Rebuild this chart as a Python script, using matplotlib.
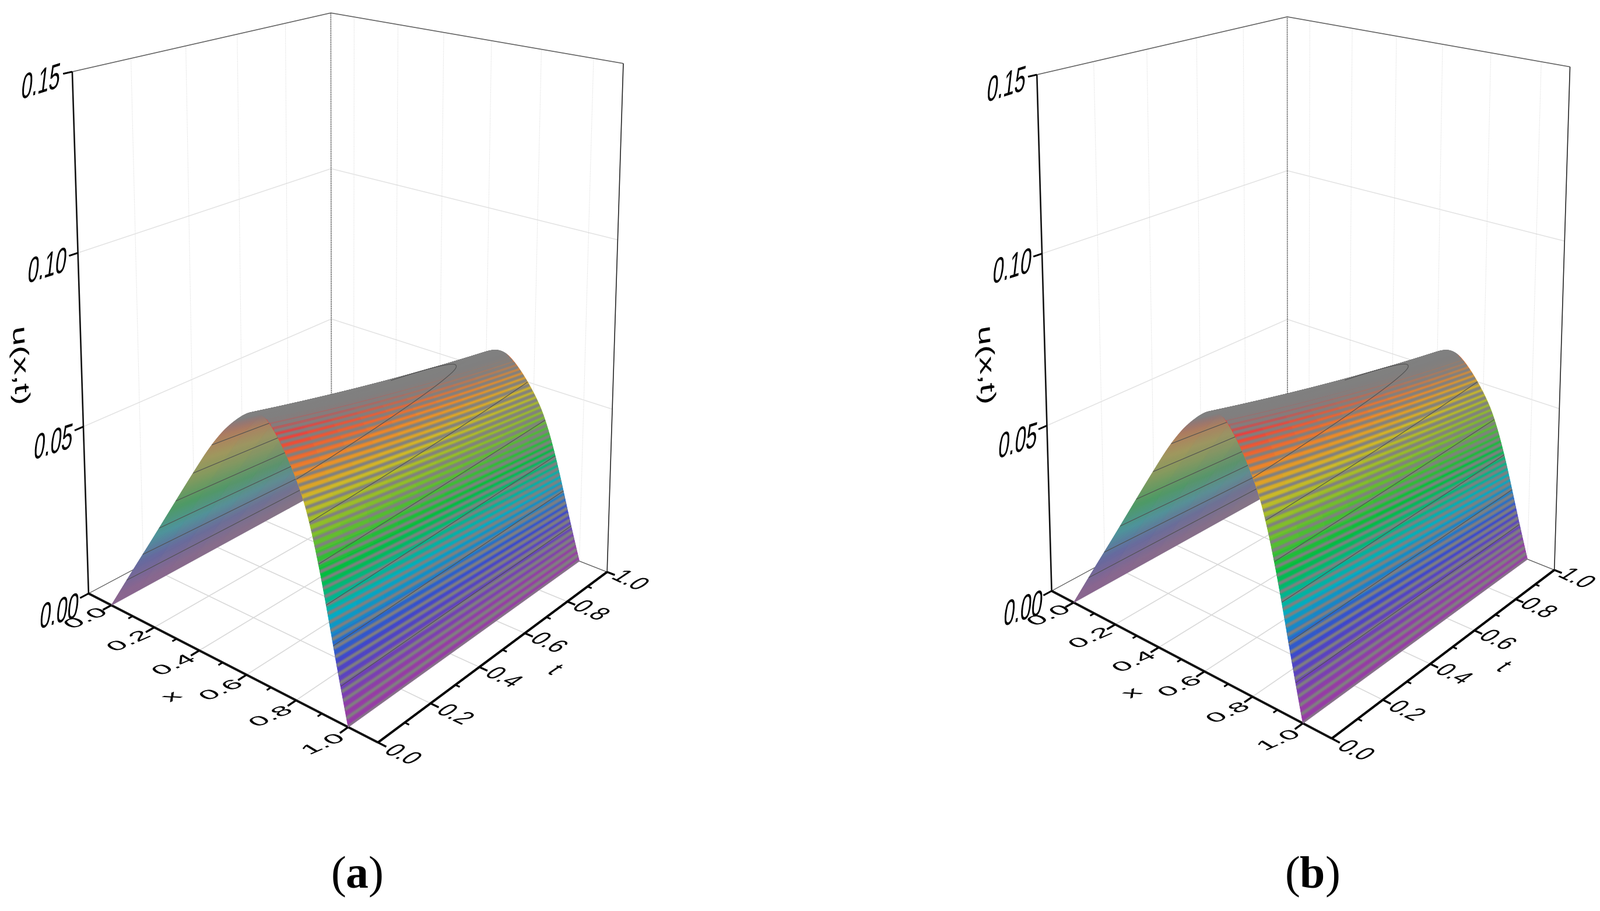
import numpy as np
import matplotlib
matplotlib.use("Agg")
import matplotlib.pyplot as plt
from matplotlib.colors import LinearSegmentedColormap, Normalize, to_rgb
from matplotlib.path import Path
from matplotlib.patheffects import AbstractPathEffect
from matplotlib.transforms import Affine2D
from mpl_toolkits.mplot3d.art3d import Poly3DCollection, Line3DCollection

W, H, DPI = 2744, 1563, 100
plt.rcParams['font.family'] = ['Liberation Sans', 'DejaVu Sans']
plt.rcParams['mathtext.fontset'] = 'custom'
plt.rcParams['mathtext.bf'] = 'Liberation Serif:bold'
plt.rcParams['mathtext.rm'] = 'Liberation Serif'

# ---- data ----
x_major = [0.0, 0.2, 0.4, 0.6, 0.8, 1.0]
x_minor = [0.1, 0.3, 0.5, 0.7, 0.9]
t_major = [0.0, 0.2, 0.4, 0.6, 0.8, 1.0]
t_minor = [0.1, 0.3, 0.5, 0.7, 0.9]
z_major = [0.00, 0.05, 0.10, 0.15]
x_labels = ['0.0', '0.2', '0.4', '0.6', '0.8', '1.0']
t_labels = ['0.0', '0.2', '0.4', '0.6', '0.8', '1.0']
z_labels = ['0.00', '0.05', '0.10', '0.15']
contour_levels = [0.01, 0.02, 0.03, 0.04, 0.05, 0.06]
# surface profile at t=0
profile_x = [0.00, 0.05, 0.10, 0.15, 0.20, 0.25, 0.30, 0.35, 0.40, 0.45, 0.50, 0.54, 0.58, 0.61,
             0.64, 0.67, 0.70, 0.73, 0.76, 0.79, 0.82, 0.85, 0.88, 0.91, 0.94, 0.97, 1.00]
profile_u = [0.0000, 0.0065, 0.0130, 0.0194, 0.0258, 0.0323, 0.0388, 0.0453, 0.0517, 0.0580, 0.0635,
             0.0672, 0.0702, 0.0722, 0.0735, 0.0739, 0.0725, 0.0698, 0.0665, 0.0625, 0.0580, 0.0520,
             0.0430, 0.0333, 0.0215, 0.0105, 0.0000]
# decay of the profile along t
t_nodes = [0.0, 0.1, 0.2, 0.3, 0.4, 0.5, 0.6, 0.7, 0.8, 0.9, 1.0]
t_factor = [1.000, 0.973, 0.947, 0.922, 0.898, 0.875, 0.853, 0.832, 0.812, 0.793, 0.775]

XMIN, XMAX, ZMAX = -0.11, 1.11, 0.15

# ---- camera calibration: (x, t, u) -> figure pixel, top-left origin ----
calib_pts = [(XMIN, 0, 0), (XMAX, 0, 0), (XMAX, 1, 0), (XMIN, 0, .15), (XMAX, 1, .15), (XMIN, 1, .15),
             (XMIN, 1, .10), (XMIN, 1, .05), (XMIN, 0, .10), (XMAX, 1, .10), (0, 0, 0), (1, 0, 0), (1, 1, 0)]
calib_a = [(153, 1018), (647, 1273), (1040, 981), (125, 123), (1069, 108), (568, 22),
           (568, 289), (568, 548), (132, 435), (1058, 412), (189, 1037), (600, 1249), (995, 963)]
calib_b = [(1803, 1014), (2283, 1267), (2665, 977), (1779, 127), (2692, 114), (2208, 28),
           (2208, 293), (2208, 549), (1787, 438), (2682, 414), (1840, 1031), (2237, 1242), (2621, 960)]

rainbow_u = [0.0, 0.004, 0.0165, 0.027, 0.037, 0.048, 0.055, 0.0605, 0.069, 0.075]
rainbow_c = ['#963ca5', '#963ca5', '#3c46cd', '#00afc3', '#00be3c', '#8cbe28', '#cdb928', '#eb8c28', '#eb3c3c', '#eb3c3c']
norm = Normalize(0, 0.075)
cmap = LinearSegmentedColormap.from_list('rb', [(u / 0.075, c) for u, c in zip(rainbow_u, rainbow_c)])
GREY = '#808080'


def fit_camera(pts, px):
    rows = []
    for (x, t, z), (u, v) in zip(pts, px):
        u, v = u / 1000, (H - v) / 1000
        p = [x, t, z * 10, 1]
        rows.append(p + [0, 0, 0, 0] + [-u * c for c in p])
        rows.append([0, 0, 0, 0] + p + [-v * c for c in p])
    P = np.linalg.svd(np.array(rows))[2][-1].reshape(3, 4)
    P = P @ np.diag([1, 1, 10, 1.0])
    P[:2] *= 1000
    if P[2] @ np.array([0.5, 0.5, 0, 1]) < 0:
        P = -P
    wmin = min(P[2] @ np.array([x, t, z, 1]) for x in (XMIN, XMAX) for t in (0, 1) for z in (0, ZMAX))
    r3 = P[2].copy()
    r3[3] -= 0.5 * wmin
    return np.vstack([P[0], P[1], r3, P[2]])


class Skew(AbstractPathEffect):
    """Draws a text centred where it stands through a linear map (text lying in a 3D plane)."""
    def __init__(self, xvec, yvec):
        super().__init__()
        self.xvec, self.yvec = xvec, yvec

    def draw_path(self, renderer, gc, tpath, affine, rgbFace=None):
        m = affine.get_matrix()
        s = np.hypot(m[0, 0], m[1, 0])
        e = tpath.get_extents()
        cx, cy = (e.x0 + e.x1) / 2, (e.y0 + e.y1) / 2
        px, py = affine.transform_point((cx, cy))
        L = np.array([[self.xvec[0], self.yvec[0], 0], [self.xvec[1], self.yvec[1], 0], [0, 0, 1.0]])
        tr = (Affine2D().translate(-cx, -cy).scale(s) + Affine2D(L) + Affine2D().translate(px, py))
        renderer.draw_path(gc, tpath, tr, rgbFace)


X_FX = Skew((1.15, 0.50), (-0.70, 0.42))
T_FX = Skew((0.85, -0.40), (0.90, 0.60))
Z_FX = Skew((0.85, 0.27), (0.18, 1.55))
U_FX = Skew((0.05, -1.48), (0.90, 0.15))
FS = 28.8


def line(ax, xs, ts, zs, color, lw, z, ls='-', cap='butt'):
    seg = np.column_stack([xs, ts, zs])
    ax.add_collection3d(Line3DCollection([seg], colors=color, linewidths=lw * 72 / DPI,
                                         linestyles=ls, capstyle=cap, zorder=z))


def project(M, x, t, u):
    x = np.atleast_1d(np.asarray(x, float))
    t = np.broadcast_to(t, x.shape) if np.ndim(t) == 0 else np.asarray(t, float)
    u = np.broadcast_to(u, t.shape)
    if x.size == 1:
        x = np.broadcast_to(x, t.shape)
    v = M @ np.array([x, t, u, np.ones_like(x)])
    return np.array([v[0] / v[3], v[1] / v[3]])


def label(fig, M, x, t, u, s, fx, rot):
    p = project(M, x, t, u)[:, 0]
    fig.text(p[0] / W, p[1] / H, s, ha='center', va='center', fontsize=FS, color='black',
             rotation=rot, path_effects=[fx])


def panel(fig, calib):
    ax = fig.add_axes([0, 0, 1, 1], projection='3d', computed_zorder=False)
    ax.patch.set_visible(False)
    ax.set_axis_off()
    M = fit_camera(calib_pts, calib)
    ax.get_proj = lambda: M
    ax.apply_aspect = lambda position=None: None

    # back walls and floor grid
    for v in x_major:
        line(ax, [v, v], [0, 1], [0, 0], '#d8d8d8', 1.6, 1)
        line(ax, [v, v], [1, 1], [0, ZMAX], '#d0d0d0', 1.0, 1, ':')
    for v in t_major:
        line(ax, [XMIN, XMAX], [v, v], [0, 0], '#d8d8d8', 1.6, 1)
        if v < 1:
            line(ax, [XMIN, XMIN], [v, v], [0, ZMAX], '#d0d0d0', 1.0, 1, ':')
    for v in z_major[1:3]:
        line(ax, [XMIN, XMIN, XMAX], [0, 1, 1], [v, v, v], '#e2e2e2', 1.5, 1)

    # box frame
    line(ax, [XMIN, XMIN, XMAX], [0, 1, 1], [ZMAX] * 3, '#606060', 1.6, 1.5)
    line(ax, [XMIN, XMIN], [1, 1], [0, ZMAX], '#555555', 1.8, 1.5, (0, (1, 0.7)))
    line(ax, [XMIN, XMIN, XMAX], [0, 1, 1], [0, 0, 0], '#555555', 1.2, 1.5)
    line(ax, [XMIN, XMIN], [0, 0], [0, ZMAX], '#111111', 2.6, 2)
    line(ax, [XMAX, XMAX], [1, 1], [0, ZMAX], '#222222', 1.6, 2)
    line(ax, [XMIN, XMAX], [0, 0], [0, 0], '#111111', 4.0, 2)
    line(ax, [XMAX, XMAX], [0, 1], [0, 0], '#000000', 4.0, 2)

    # surface: fine mesh on the read profile, corners rounded for drawing
    t = np.array(t_nodes)
    fac = np.array(t_factor)
    xf = np.arange(241) / 240
    raw = np.interp(xf, profile_x, profile_u)
    k = 6
    pad = np.r_[2 * raw[0] - raw[k:0:-1], raw, 2 * raw[-1] - raw[-2:-k - 2:-1]]
    prof = np.convolve(pad, np.ones(2 * k + 1) / (2 * k + 1), mode='valid')
    U = np.outer(prof, fac)

    # screen distance between neighbouring x lines, measured across the t direction
    p0 = project(M, xf, 0.5, prof * fac[5])
    tdir = project(M, xf, 1.0, prof * fac[10]) - project(M, xf, 0.0, prof)
    tdir /= np.hypot(*tdir)
    nrm = np.array([-tdir[1], tdir[0]])
    dP = np.gradient(p0, xf, axis=1)
    rate = np.abs((dP * nrm).sum(axis=0))
    split = 139  # crest silhouette, x about 0.58
    grey = np.array(to_rgb(GREY))

    for lo, hi, zo in ((0, split, 3.0), (split, 240, 4.0)):
        verts, cols = [], []
        for i in range(lo, hi):
            for j in range(len(t) - 1):
                # how much of the colour shows between the dense grey mesh lines
                if lo:
                    show = np.clip((rate[i] - 420) / 150, 0, 1)
                else:
                    show = 0.40 * np.clip((0.57 - xf[i]) / 0.07, 0, 1) * (1 - 0.85 * t[j])
                verts.append([(xf[i], t[j], U[i, j]), (xf[i + 1], t[j], U[i + 1, j]),
                              (xf[i + 1], t[j + 1], U[i + 1, j + 1]), (xf[i], t[j + 1], U[i, j + 1])])
                val = (U[i:i + 2, j:j + 2] / np.sqrt(fac[j:j + 2])).mean()
                c = show * np.array(cmap(norm(val))[:3]) + (1 - show) * grey
                cols.append(tuple(c))
        ax.add_collection3d(Poly3DCollection(verts, facecolors=cols, edgecolors=cols,
                                             linewidths=0.6, zorder=zo))
        if lo:
            # grey mesh stripes, soft edged, kept inside the sheet's outline
            pitch = 11.5
            xs, cur = [], xf[hi]
            while cur >= xf[lo] - 1e-9:
                xs.append(cur)
                cur -= min(pitch / max(np.interp(cur, xf, rate), 1.0), 0.012)
            segs, widths = [], []
            for s in xs:
                us = np.interp(s, xf, prof) * fac
                segs.append(np.column_stack([np.full(len(t), s), t, us]))
                r = np.interp(s, xf, rate)
                g = float(np.clip(1 - (r - 450) / 350 * 0.5, 0.5, 1.0))
                widths.append(pitch * g * 72 / DPI)
            widths = np.array(widths)
            outline = np.hstack([project(M, xf[lo:hi + 1], 0.0, U[lo:hi + 1, 0]),
                                 project(M, xf[hi], t, U[hi]),
                                 project(M, xf[lo:hi + 1][::-1], 1.0, U[lo:hi + 1, -1][::-1]),
                                 project(M, xf[lo], t[::-1], U[lo][::-1])]).T
            clip = Path(np.vstack([outline, outline[:1]]), closed=True)
            for scale, alpha, dz in ((1.35, 0.45, 0.1), (0.7, 0.9, 0.11)):
                coll = Line3DCollection(segs, colors=GREY, linewidths=widths * scale, alpha=alpha,
                                        capstyle='butt', zorder=zo + dz)
                ax.add_collection3d(coll)
                coll.set_clip_path(clip, ax.transData)
        Xg, Tg = np.meshgrid(xf[lo:hi + 1], t, indexing='ij')
        ax.contour(Xg, Tg, U[lo:hi + 1], levels=contour_levels, colors='#505050',
                   linewidths=0.8, zorder=zo + 0.2)

    # ticks
    for v in x_major:
        line(ax, [v, v], [0, -0.03], [0, 0], '#000000', 3.4, 2)
    for v in x_minor:
        line(ax, [v, v], [0, -0.015], [0, 0], '#000000', 3.0, 2)
    for v in t_major:
        line(ax, [XMAX, XMAX + 0.03], [v, v], [0, 0], '#000000', 3.4, 2)
    for v in t_minor:
        line(ax, [XMAX, XMAX + 0.016], [v, v], [0, 0], '#000000', 3.0, 2)
    for v in z_major:
        line(ax, [XMIN, XMIN], [0, -0.03], [v, v], '#000000', 3.0, 2)

    # labels
    for v, s in zip(x_major, x_labels):
        label(fig, M, v, -0.09, 0, s, X_FX, 23)
    for v, s in zip(t_major, t_labels):
        label(fig, M, XMAX + 0.09, v, 0, s, T_FX, -25)
    for v, s in zip(z_major, z_labels):
        label(fig, M, XMIN, -0.10, v - 0.001, s, Z_FX, 17)
    label(fig, M, 0.51, -0.183, 0, 'x', X_FX, 23)
    label(fig, M, XMAX + 0.185, 0.51, 0, 't', T_FX, -25)
    label(fig, M, XMIN, -0.20, 0.0745, 'u(x,t)', U_FX, -90)

    ax.viewLim.intervalx = (0, W)
    ax.viewLim.intervaly = (0, H)
    return ax


fig = plt.figure(figsize=(W / DPI, H / DPI), dpi=DPI, facecolor='white')
panel(fig, calib_a)
panel(fig, calib_b)
fig.text(612 / W, 1 - 1504 / H, r'($\mathbf{a}$)', fontsize=56, ha='center', va='center',
         family='Liberation Serif')
fig.text(2250 / W, 1 - 1504 / H, r'($\mathbf{b}$)', fontsize=56, ha='center', va='center',
         family='Liberation Serif')
fig.savefig('out.png', dpi=DPI)
